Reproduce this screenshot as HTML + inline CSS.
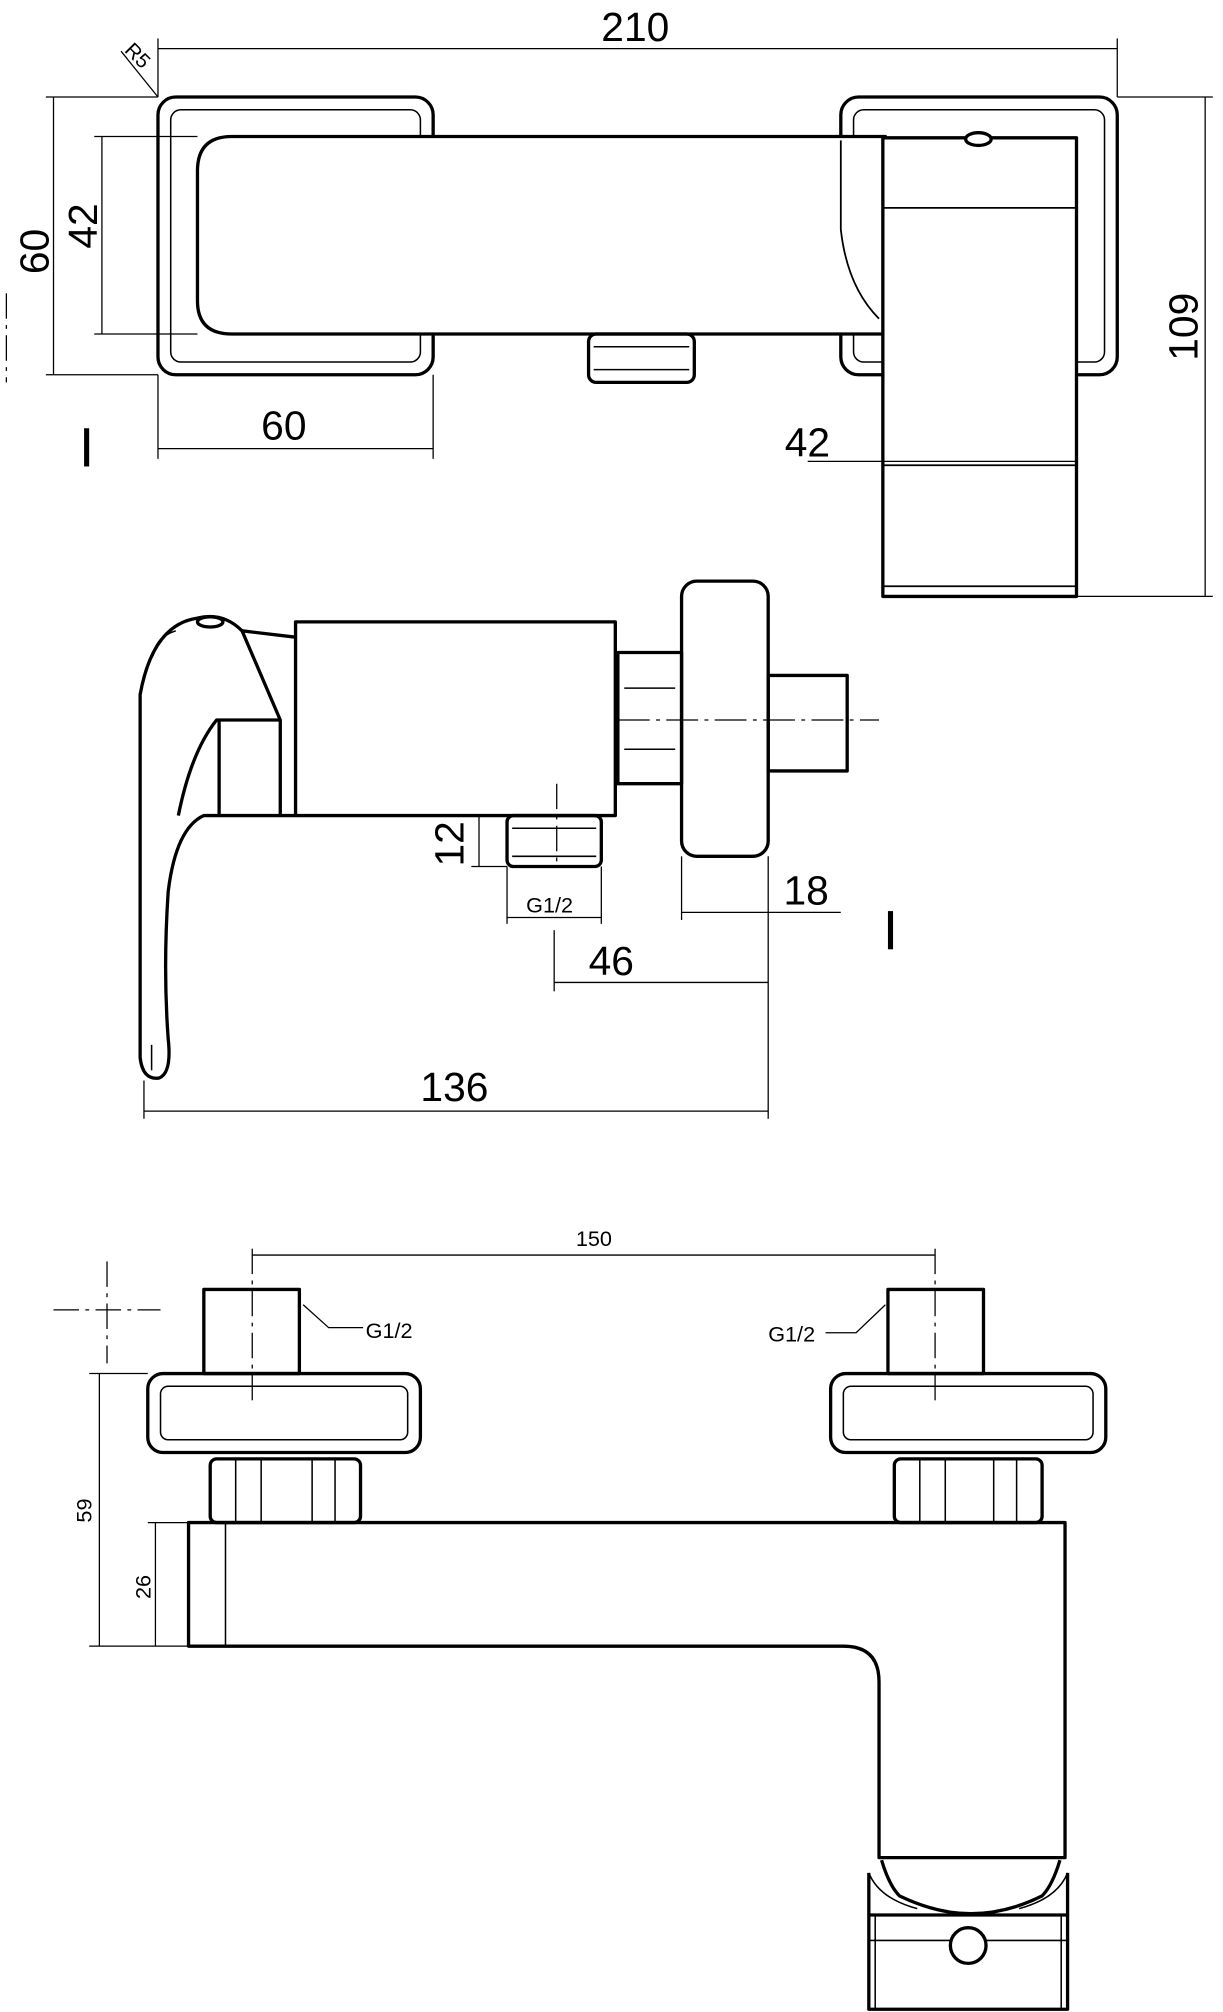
<!DOCTYPE html>
<html><head><meta charset="utf-8"><style>html,body{margin:0;padding:0;background:#fff}svg{display:block}</style></head><body>
<svg width="1223" height="2012" viewBox="0 0 960 1579" xmlns="http://www.w3.org/2000/svg" font-family="Liberation Sans, sans-serif">
<g fill="none" stroke="#000" stroke-width="2.6" stroke-linejoin="round">
<!-- TOP VIEW -->
<rect x="124" y="76" width="216" height="218" rx="14"/>
<rect x="134" y="86" width="196" height="198" rx="8" stroke-width="1.2"/>
<rect x="660" y="76" width="217" height="218" rx="14"/>
<rect x="670" y="86" width="197" height="198" rx="8" stroke-width="1.2"/>
<path d="M695 107 H182 Q155 107 155 134 V236 Q155 262 182 262 H695 Z" fill="#fff"/>
<path d="M660 110 V180 Q665 225 690 250" stroke-width="1.4"/>
<rect x="693" y="108" width="152" height="360" fill="#fff"/>
<line x1="693" y1="163" x2="845" y2="163" stroke-width="1.4"/>
<line x1="693" y1="365" x2="845" y2="365" stroke-width="1.4"/>
<line x1="693" y1="460" x2="845" y2="460" stroke-width="1.4"/>
<ellipse cx="768" cy="109" rx="10" ry="5" fill="#fff"/>
<rect x="462" y="262" width="83" height="38" rx="6"/>
<line x1="466" y1="272" x2="541" y2="272" stroke-width="1.2"/>
<line x1="466" y1="290" x2="541" y2="290" stroke-width="1.2"/>
<!-- SIDE VIEW -->
<rect x="232" y="488" width="251" height="152"/>
<path d="M485 512 H535 V615 H485 Z"/>
<line x1="490" y1="540" x2="530" y2="540" stroke-width="1.2"/>
<line x1="490" y1="588" x2="530" y2="588" stroke-width="1.2"/>
<rect x="535" y="456" width="68" height="216" rx="12"/>
<rect x="603" y="530" width="62" height="75"/>
<path d="M232 500 L190 495 L220 565 L220 640 L232 640"/>
<path d="M190 495 Q175 480 155 485 Q120 490 110 545 L110 830 Q112 848 125 846 Q135 842 132 815 Q128 760 132 700 Q138 650 160 640 L220 640"/>
<path d="M220 565 L170 565 Q150 590 140 640"/>
<path d="M172 565 L172 640"/>
<ellipse cx="165" cy="488" rx="10" ry="4"/>
<path d="M120 515 Q122 500 138 495" stroke-width="1.2"/>
<path d="M119 820 L119 840" stroke-width="1.2"/>
<rect x="398" y="640" width="74" height="40" rx="5"/>
<line x1="402" y1="650" x2="468" y2="650" stroke-width="1.2"/>
<line x1="402" y1="672" x2="468" y2="672" stroke-width="1.2"/>
<!-- FRONT VIEW -->
<rect x="160" y="1012" width="75" height="66"/>
<rect x="116" y="1078" width="214" height="62" rx="12"/>
<rect x="126" y="1088" width="194" height="42" rx="6" stroke-width="1.2"/>
<rect x="165" y="1145" width="118" height="50" rx="5"/>
<line x1="185" y1="1145" x2="185" y2="1195" stroke-width="1.2"/>
<line x1="205" y1="1145" x2="205" y2="1195" stroke-width="1.2"/>
<line x1="245" y1="1145" x2="245" y2="1195" stroke-width="1.2"/>
<line x1="263" y1="1145" x2="263" y2="1195" stroke-width="1.2"/>
<rect x="697" y="1012" width="75" height="66"/>
<rect x="652" y="1078" width="216" height="62" rx="12"/>
<rect x="662" y="1088" width="196" height="42" rx="6" stroke-width="1.2"/>
<rect x="702" y="1145" width="116" height="50" rx="5"/>
<line x1="722" y1="1145" x2="722" y2="1195" stroke-width="1.2"/>
<line x1="742" y1="1145" x2="742" y2="1195" stroke-width="1.2"/>
<line x1="780" y1="1145" x2="780" y2="1195" stroke-width="1.2"/>
<line x1="798" y1="1145" x2="798" y2="1195" stroke-width="1.2"/>
<path d="M148 1195 H836 V1458 H690 V1320 Q690 1292 662 1292 H148 Z"/>
<line x1="177" y1="1195" x2="177" y2="1292" stroke-width="1.2"/>
<path d="M692 1460 Q698 1480 706 1488 Q735 1502 762 1502 Q790 1502 818 1488 Q826 1480 832 1460"/>
<path d="M682 1470 Q690 1490 720 1498" stroke-width="1.2"/>
<path d="M838 1470 Q830 1490 800 1498" stroke-width="1.2"/>
<path d="M682 1470 V1577 H838 V1470"/>
<line x1="682" y1="1503" x2="838" y2="1503"/>
<line x1="682" y1="1523" x2="838" y2="1523" stroke-width="1.2"/>
<line x1="687" y1="1503" x2="687" y2="1577" stroke-width="1.2"/>
<line x1="833" y1="1503" x2="833" y2="1577" stroke-width="1.2"/>
<circle cx="760" cy="1527" r="14" fill="#fff"/>
</g>
<!-- dimension / center lines -->
<g fill="none" stroke="#000" stroke-width="1">
<line x1="124" y1="38" x2="877" y2="38"/>
<line x1="124" y1="30" x2="124" y2="76"/>
<line x1="877" y1="30" x2="877" y2="76"/>
<line x1="95" y1="40" x2="124" y2="76"/>
<line x1="36" y1="76" x2="124" y2="76"/>
<line x1="36" y1="294" x2="124" y2="294"/>
<line x1="42" y1="76" x2="42" y2="294"/>
<line x1="74" y1="107" x2="155" y2="107"/>
<line x1="74" y1="262" x2="155" y2="262"/>
<line x1="80" y1="107" x2="80" y2="262"/>
<line x1="124" y1="294" x2="124" y2="360"/>
<line x1="340" y1="294" x2="340" y2="360"/>
<line x1="124" y1="352" x2="340" y2="352"/>
<line x1="634" y1="362" x2="845" y2="362"/>
<line x1="877" y1="76" x2="952" y2="76"/>
<line x1="845" y1="468" x2="952" y2="468"/>
<line x1="946" y1="76" x2="946" y2="468"/>
<line x1="5" y1="230" x2="5" y2="300" stroke-dasharray="20 5 3 5"/>
<line x1="485" y1="565" x2="690" y2="565" stroke-dasharray="25 5 3 5"/>
<line x1="437" y1="615" x2="437" y2="680" stroke-dasharray="20 5 3 5"/>
<line x1="370" y1="640" x2="398" y2="640"/>
<line x1="370" y1="680" x2="398" y2="680"/>
<line x1="376" y1="640" x2="376" y2="680"/>
<line x1="398" y1="680" x2="398" y2="725"/>
<line x1="472" y1="680" x2="472" y2="725"/>
<line x1="398" y1="720" x2="472" y2="720"/>
<line x1="535" y1="672" x2="535" y2="722"/>
<line x1="603" y1="672" x2="603" y2="878"/>
<line x1="535" y1="716" x2="660" y2="716"/>
<line x1="435" y1="730" x2="435" y2="778"/>
<line x1="435" y1="771" x2="603" y2="771"/>
<line x1="113" y1="848" x2="113" y2="878"/>
<line x1="113" y1="872" x2="603" y2="872"/>
<line x1="198" y1="985" x2="734" y2="985"/>
<line x1="198" y1="980" x2="198" y2="1100" stroke-dasharray="20 5 3 5"/>
<line x1="734" y1="980" x2="734" y2="1100" stroke-dasharray="20 5 3 5"/>
<line x1="84" y1="990" x2="84" y2="1070" stroke-dasharray="20 5 3 5"/>
<line x1="42" y1="1028" x2="126" y2="1028" stroke-dasharray="20 5 3 5"/>
<line x1="70" y1="1078" x2="116" y2="1078"/>
<line x1="70" y1="1292" x2="148" y2="1292"/>
<line x1="78" y1="1078" x2="78" y2="1292"/>
<line x1="116" y1="1195" x2="148" y2="1195"/>
<line x1="122" y1="1195" x2="122" y2="1292"/>
<path d="M238 1024 L258 1042 H285"/>
<path d="M695 1024 L672 1046 H648"/>
</g>
<g fill="#000">
<rect x="66" y="336" width="4" height="30"/>
<rect x="697" y="715" width="4" height="30"/>
</g>
<g fill="#000" font-size="32">
<text x="472" y="32">210</text>
<text x="205" y="345">60</text>
<text x="616" y="358">42</text>
<text x="462" y="765">46</text>
<text x="615" y="710">18</text>
<text x="330" y="864">136</text>
<text transform="translate(38 215) rotate(-90)">60</text>
<text transform="translate(76 195) rotate(-90)">42</text>
<text transform="translate(940 283) rotate(-90)">109</text>
<text transform="translate(364 680) rotate(-90)">12</text>
<text transform="translate(97 40) rotate(45)" font-size="16">R5</text>
<text x="413" y="716" font-size="17">G1/2</text>
<text x="452" y="978" font-size="17">150</text>
<text x="287" y="1050" font-size="17">G1/2</text>
<text x="603" y="1053" font-size="17">G1/2</text>
<text transform="translate(72 1195) rotate(-90)" font-size="17">59</text>
<text transform="translate(118 1255) rotate(-90)" font-size="17">26</text>
</g>
</svg>
</body></html>
